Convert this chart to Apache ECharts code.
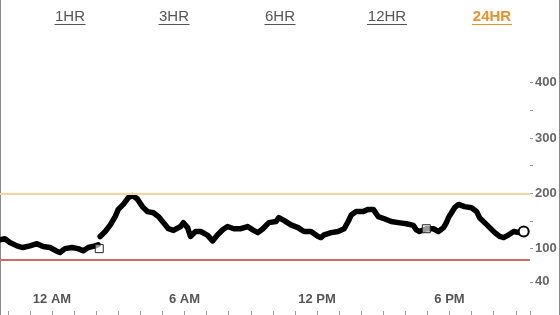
<!DOCTYPE html>
<html>
<head>
<meta charset="utf-8">
<script src="https://cdn.jsdelivr.net/npm/echarts@6/dist/echarts.min.js"></script>
<style>
html,body{margin:0;padding:0;background:#fff;}
#chart{width:560px;height:315px;}
</style>
</head>
<body>
<div id="chart"></div>
<script>
// Range tabs
var tabLabels = ['1HR', '3HR', '6HR', '12HR', '24HR'];
var activeTab = '24HR';

// Hours relative to 12 AM (negative = previous evening)
var seg1Hours = [-2.36, -2.14, -1.91, -1.59, -1.32, -1.0, -0.68, -0.41, -0.09, 0.23, 0.36, 0.59, 0.91, 1.18, 1.41, 1.64, 1.95, 2.09];
var seg1Values = [116, 118, 111, 105, 102, 105, 109, 104, 102, 95, 93, 100, 102, 100, 96, 102, 105, 107];

var seg2Hours = [2.18, 2.41, 2.64, 2.86, 3.0, 3.23, 3.45, 3.64, 3.86, 4.09, 4.32, 4.59, 4.82, 5.05, 5.27, 5.5, 5.82, 5.95, 6.14, 6.27, 6.5, 6.73, 7.05, 7.27, 7.5, 7.73, 7.95, 8.23, 8.55, 8.86, 9.09, 9.32, 9.55, 9.82, 10.14, 10.27, 10.5, 10.82, 11.14, 11.41, 11.73, 12.05, 12.18, 12.32, 12.64, 12.95, 13.23, 13.41, 13.55, 13.77, 14.09, 14.32, 14.55, 14.77, 15.05, 15.36, 15.68, 16.05, 16.36, 16.5, 16.64, 16.95, 17.27, 17.5, 17.73, 17.86, 17.95, 18.09, 18.23, 18.41, 18.68, 19.0, 19.23, 19.36, 19.59, 19.82, 20.05, 20.27, 20.45, 20.68, 20.91, 21.14, 21.36];
var seg2Values = [122, 131, 143, 158, 171, 180, 192, 196, 190, 176, 167, 165, 158, 147, 136, 133, 140, 147, 138, 122, 131, 131, 124, 114, 125, 134, 140, 136, 136, 140, 134, 129, 136, 147, 149, 156, 151, 143, 138, 131, 131, 122, 120, 125, 129, 131, 136, 149, 161, 167, 167, 171, 171, 158, 154, 149, 147, 145, 142, 134, 131, 136, 136, 131, 138, 147, 156, 165, 174, 180, 176, 174, 167, 156, 147, 138, 129, 122, 120, 125, 131, 129, 131];

// Event markers (square) and current reading (circle)
var eventHours = [2.14, 16.95];
var eventValues = [100, 136];
var currentHour = [21.36];
var currentValue = [131];

// Thresholds
var highLimit = 200;
var lowLimit = 80;

// Axis ticks / labels
var yLabelValues = [40, 100, 200, 300, 400];
var yTickValues = [40, 100, 150, 200, 250, 300, 350, 400];
var xLabelHours = [0, 6, 12, 18];
var xLabelTexts = ['12 AM', '6 AM', '12 PM', '6 PM'];

var xMin = -2.355, xMax = 21.645;
var xTickHours = [];
for (var h = -2; h <= 21; h++) xTickHours.push(h);
xTickHours.push(xMax);

function pairs(xs, ys) { return xs.map(function (x, i) { return [x, ys[i]]; }); }

var FONT = '"Liberation Sans", Arial, Helvetica, sans-serif';

var graphics = [
  { type: 'line', shape: { x1: 0.5, y1: 0, x2: 0.5, y2: 315 }, style: { stroke: '#8a8a8a', lineWidth: 1 } },
  { type: 'line', shape: { x1: 559.5, y1: 0, x2: 559.5, y2: 315 }, style: { stroke: '#8a8a8a', lineWidth: 1 } }
];
var tabCenters = [70, 174, 280, 387, 492];
var tabWidths = [31, 31, 31, 40, 40];
tabLabels.forEach(function (t, i) {
  var active = t === activeTab;
  var col = active ? '#E8922E' : '#555555';
  graphics.push({
    type: 'text', x: tabCenters[i], y: 16.5,
    style: { text: t, fill: col, font: (active ? 'bold ' : '') + '15px ' + FONT, textAlign: 'center', textVerticalAlign: 'middle' }
  });
  graphics.push({
    type: 'line',
    shape: { x1: tabCenters[i] - tabWidths[i] / 2, y1: 24.5, x2: tabCenters[i] + tabWidths[i] / 2, y2: 24.5 },
    style: { stroke: col, lineWidth: 1 }
  });
});

var lineStyleCommon = { color: '#000', width: 5.5, cap: 'round', join: 'round' };

var option = {
  animation: false,
  backgroundColor: '#ffffff',
  grid: { left: 0, right: 30, top: 38.5, bottom: 0, containLabel: false, outerBoundsMode: 'none' },
  xAxis: {
    type: 'value', min: xMin, max: xMax,
    axisLine: { show: false, onZero: false },
    splitLine: { show: false },
    axisTick: { show: true, inside: true, length: 4, lineStyle: { color: '#999' }, customValues: xTickHours },
    axisLabel: {
      show: true, inside: true, margin: 9, verticalAlign: 'bottom', customValues: xLabelHours,
      color: '#555', fontWeight: 'bold', fontSize: 13, fontFamily: FONT,
      formatter: function (v) { var i = xLabelHours.indexOf(Math.round(v)); return i >= 0 ? xLabelTexts[i] : ''; }
    }
  },
  yAxis: {
    type: 'value', position: 'right', min: -20, max: 480,
    axisLine: { show: false, onZero: false },
    splitLine: { show: false },
    axisTick: { show: true, length: 3, lineStyle: { color: '#999' }, customValues: yTickValues },
    axisLabel: { show: true, margin: 5, customValues: yLabelValues, color: '#666', fontWeight: 'bold', fontSize: 13, fontFamily: FONT }
  },
  graphic: graphics,
  series: [
    {
      type: 'line', data: pairs(seg1Hours, seg1Values), showSymbol: false, smooth: false,
      lineStyle: lineStyleCommon, z: 3,
      markLine: {
        silent: true, symbol: 'none', label: { show: false },
        data: [
          { yAxis: highLimit, lineStyle: { color: '#F3D59C', width: 2, type: 'solid' } },
          { yAxis: lowLimit, lineStyle: { color: '#D46A68', width: 2, type: 'solid' } }
        ]
      }
    },
    { type: 'line', data: pairs(seg2Hours, seg2Values), showSymbol: false, lineStyle: lineStyleCommon, z: 3 },
    {
      type: 'scatter', data: pairs(eventHours, eventValues), symbol: 'rect', symbolSize: 8, z: 4,
      itemStyle: { color: 'rgba(255,255,255,0.6)', borderColor: '#222', borderWidth: 1, opacity: 1 }
    },
    {
      type: 'scatter', data: pairs(currentHour, currentValue), symbol: 'circle', symbolSize: 10, z: 5,
      itemStyle: { color: '#ffffff', borderColor: '#000', borderWidth: 2, opacity: 1 }
    }
  ]
};

var chart = echarts.init(document.getElementById('chart'), null, { renderer: 'canvas' });
chart.setOption(option);
</script>
</body>
</html>
